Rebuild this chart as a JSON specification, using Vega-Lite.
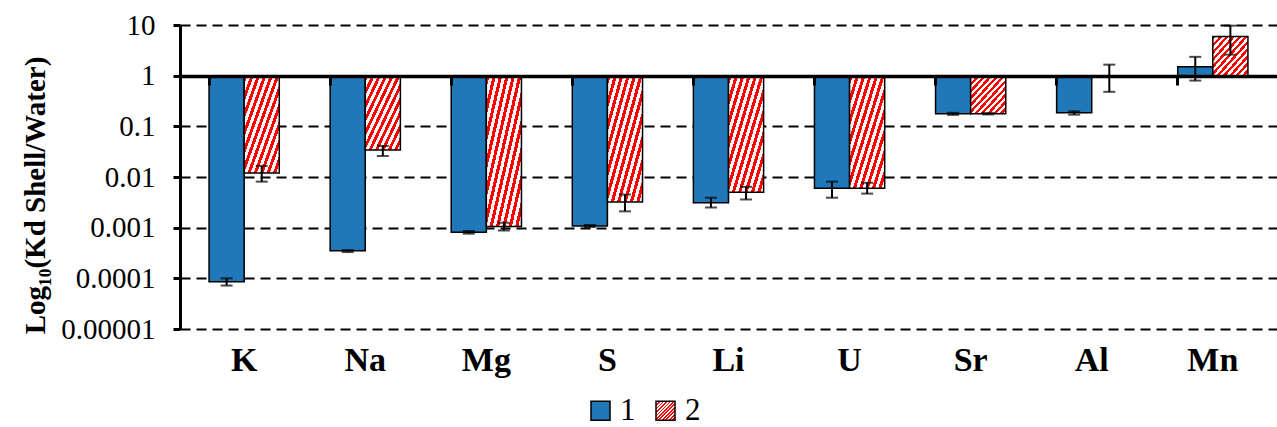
{
  "$schema": "https://vega.github.io/schema/vega-lite/v6.json",
  "width": 1097,
  "height": 304,
  "autosize": {"type": "none"},
  "padding": {"left": 180, "top": 25, "right": 0, "bottom": 98},
  "background": "white",
  "config": {"view": {"stroke": null}, "bar": {"stroke": "black", "strokeWidth": 1.5}},
  "data": {"values": [
    {"element": "K", "series": "1", "v": 0.000086, "lo": 0.000072, "hi": 0.0001},
    {"element": "K", "series": "2", "v": 0.012, "lo": 0.0081, "hi": 0.0166},
    {"element": "Na", "series": "1", "v": 0.00035, "lo": 0.00033, "hi": 0.00036},
    {"element": "Na", "series": "2", "v": 0.034, "lo": 0.026, "hi": 0.041},
    {"element": "Mg", "series": "1", "v": 0.00081, "lo": 0.00076, "hi": 0.00086},
    {"element": "Mg", "series": "2", "v": 0.00105, "lo": 0.00088, "hi": 0.00125},
    {"element": "S", "series": "1", "v": 0.00108, "lo": 0.00103, "hi": 0.00113},
    {"element": "S", "series": "2", "v": 0.0032, "lo": 0.0021, "hi": 0.0045},
    {"element": "Li", "series": "1", "v": 0.0031, "lo": 0.0025, "hi": 0.0039},
    {"element": "Li", "series": "2", "v": 0.005, "lo": 0.0036, "hi": 0.0064},
    {"element": "U", "series": "1", "v": 0.006, "lo": 0.0039, "hi": 0.0081},
    {"element": "U", "series": "2", "v": 0.006, "lo": 0.0047, "hi": 0.0077},
    {"element": "Sr", "series": "1", "v": 0.178, "lo": 0.168, "hi": 0.185},
    {"element": "Sr", "series": "2", "v": 0.178, "lo": 0.172, "hi": 0.183},
    {"element": "Al", "series": "1", "v": 0.185, "lo": 0.17, "hi": 0.198},
    {"element": "Al", "series": "2", "v": 1, "lo": 0.48, "hi": 1.65},
    {"element": "Mn", "series": "1", "v": 1.5, "lo": 0.8, "hi": 2.35},
    {"element": "Mn", "series": "2", "v": 5.9, "lo": 2.6, "hi": 9.7}
  ]},
  "layer": [
    {
      "mark": {"type": "bar", "stroke": "black", "strokeWidth": 1.5},
      "encoding": {
        "x": {"field": "element", "type": "nominal", "sort": ["K", "Na", "Mg", "S", "Li", "U", "Sr", "Al", "Mn"],
          "scale": {"paddingInner": 0.42, "paddingOuter": 0.24},
          "axis": {"orient": "bottom", "title": null, "domain": false, "ticks": false, "grid": false, "labelAngle": 0,
            "labelFont": "Liberation Serif, Times New Roman, serif", "labelFontSize": 34, "labelFontWeight": "bold", "labelColor": "black", "labelPadding": 14}},
        "xOffset": {"field": "series", "type": "nominal", "sort": ["1", "2"], "scale": {"paddingInner": 0, "paddingOuter": 0}},
        "y": {"field": "v", "type": "quantitative", "title": "Log₁₀(Kd  Shell/Water)",
          "scale": {"type": "log", "domain": [0.00001, 10]},
          "axis": {"values": [0.00001, 0.0001, 0.001, 0.01, 0.1, 1, 10],
            "labelExpr": "datum.value >= 1 ? format(datum.value, 'd') : format(datum.value, '.5~f')",
            "grid": true, "gridColor": "black", "gridDash": [10, 6], "gridWidth": 2, "gridOpacity": 1,
            "domainColor": "black", "domainWidth": 3, "tickColor": "black", "tickWidth": 3, "tickSize": 7,
            "labelFont": "Liberation Serif, Times New Roman, serif", "labelFontSize": 29, "labelColor": "black", "labelPadding": 18,
            "titleFont": "Liberation Serif, Times New Roman, serif", "titleFontSize": 29, "titleFontWeight": "bold", "titleColor": "black", "titlePadding": 10, "titleY": 170}},
        "y2": {"datum": 1},
        "fill": {"field": "series", "type": "nominal",
          "scale": {"domain": ["1", "2"], "range": ["#2078b8", {"expr": "{gradient: 'linear', x1: 0, y1: 0, x2: 1, y2: 1, stops: [{offset: 0, color: '#ff0000'}, {offset: 0.0455, color: '#ff0000'}, {offset: 0.0455, color: '#ffffff'}, {offset: 0.0909, color: '#ffffff'}, {offset: 0.0909, color: '#ff0000'}, {offset: 0.1364, color: '#ff0000'}, {offset: 0.1364, color: '#ffffff'}, {offset: 0.1818, color: '#ffffff'}, {offset: 0.1818, color: '#ff0000'}, {offset: 0.2273, color: '#ff0000'}, {offset: 0.2273, color: '#ffffff'}, {offset: 0.2727, color: '#ffffff'}, {offset: 0.2727, color: '#ff0000'}, {offset: 0.3182, color: '#ff0000'}, {offset: 0.3182, color: '#ffffff'}, {offset: 0.3636, color: '#ffffff'}, {offset: 0.3636, color: '#ff0000'}, {offset: 0.4091, color: '#ff0000'}, {offset: 0.4091, color: '#ffffff'}, {offset: 0.4545, color: '#ffffff'}, {offset: 0.4545, color: '#ff0000'}, {offset: 0.5, color: '#ff0000'}, {offset: 0.5, color: '#ffffff'}, {offset: 0.5455, color: '#ffffff'}, {offset: 0.5455, color: '#ff0000'}, {offset: 0.5909, color: '#ff0000'}, {offset: 0.5909, color: '#ffffff'}, {offset: 0.6364, color: '#ffffff'}, {offset: 0.6364, color: '#ff0000'}, {offset: 0.6818, color: '#ff0000'}, {offset: 0.6818, color: '#ffffff'}, {offset: 0.7273, color: '#ffffff'}, {offset: 0.7273, color: '#ff0000'}, {offset: 0.7727, color: '#ff0000'}, {offset: 0.7727, color: '#ffffff'}, {offset: 0.8182, color: '#ffffff'}, {offset: 0.8182, color: '#ff0000'}, {offset: 0.8636, color: '#ff0000'}, {offset: 0.8636, color: '#ffffff'}, {offset: 0.9091, color: '#ffffff'}, {offset: 0.9091, color: '#ff0000'}, {offset: 0.9545, color: '#ff0000'}, {offset: 0.9545, color: '#ffffff'}, {offset: 1, color: '#ffffff'}]}"}]},
          "legend": {"orient": "none", "legendX": 405, "legendY": 370, "direction": "horizontal", "title": null,
            "symbolType": "square", "symbolSize": 361, "symbolStrokeColor": "black", "symbolStrokeWidth": 2,
            "labelFont": "Liberation Serif, Times New Roman, serif", "labelFontSize": 31, "labelColor": "black", "labelOffset": 4, "columnPadding": 14}}
      }
    },
    {
      "mark": {"type": "rule", "color": "black", "strokeWidth": 2},
      "encoding": {
        "x": {"field": "element", "type": "nominal", "sort": ["K", "Na", "Mg", "S", "Li", "U", "Sr", "Al", "Mn"],
          "axis": {"orient": "bottom", "offset": -253, "title": null, "labels": false, "grid": false,
            "domain": true, "domainColor": "black", "domainWidth": 3.5,
            "ticks": true, "tickColor": "black", "tickWidth": 3, "tickSize": 9, "bandPosition": 0, "zindex": 2}},
        "xOffset": {"field": "series", "type": "nominal", "sort": ["1", "2"]},
        "y": {"field": "lo", "type": "quantitative", "title": "Log₁₀(Kd  Shell/Water)"},
        "y2": {"field": "hi"}
      }
    },
    {
      "mark": {"type": "tick", "color": "black", "thickness": 2, "size": 12},
      "encoding": {
        "x": {"field": "element", "type": "nominal", "sort": ["K", "Na", "Mg", "S", "Li", "U", "Sr", "Al", "Mn"], "axis": null},
        "xOffset": {"field": "series", "type": "nominal", "sort": ["1", "2"]},
        "y": {"field": "lo", "type": "quantitative", "title": "Log₁₀(Kd  Shell/Water)"}
      }
    },
    {
      "mark": {"type": "tick", "color": "black", "thickness": 2, "size": 12},
      "encoding": {
        "x": {"field": "element", "type": "nominal", "sort": ["K", "Na", "Mg", "S", "Li", "U", "Sr", "Al", "Mn"], "axis": null},
        "xOffset": {"field": "series", "type": "nominal", "sort": ["1", "2"]},
        "y": {"field": "hi", "type": "quantitative", "title": "Log₁₀(Kd  Shell/Water)"}
      }
    }
  ],
  "resolve": {"axis": {"x": "independent"}}
}
